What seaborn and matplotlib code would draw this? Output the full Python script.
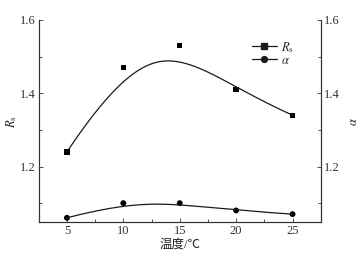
import numpy as np
import pandas as pd
import matplotlib
matplotlib.use('Agg')
import matplotlib.pyplot as plt
from matplotlib.lines import Line2D
from matplotlib.ticker import MultipleLocator
import seaborn as sns

# data
temps = [5, 10, 15, 20, 25]
rs_vals = [1.24, 1.47, 1.53, 1.41, 1.34]
alpha_vals = [1.06, 1.10, 1.10, 1.08, 1.07]


def bspline(x, y, k=3, n=300):
    # clamped cubic B-spline using the data points as control points (like Origin's "B-spline")
    P = np.column_stack([x, y]).astype(float)
    m = len(P)
    inner = np.linspace(0, 1, m - k + 1)[1:-1]
    knots = np.concatenate([np.zeros(k + 1), inner, np.ones(k + 1)])
    t = np.linspace(0, 1, n)
    t[-1] -= 1e-9

    def basis(i, d, t):
        if d == 0:
            return ((knots[i] <= t) & (t < knots[i + 1])).astype(float)
        out = np.zeros_like(t)
        den1 = knots[i + d] - knots[i]
        den2 = knots[i + d + 1] - knots[i + 1]
        if den1 > 0:
            out += (t - knots[i]) / den1 * basis(i, d - 1, t)
        if den2 > 0:
            out += (knots[i + d + 1] - t) / den2 * basis(i + 1, d - 1, t)
        return out

    B = np.column_stack([basis(i, k, t) for i in range(m)])
    C = B @ P
    return C[:, 0], C[:, 1]


sns.set_theme(style='ticks')
plt.rcParams['font.family'] = ['Liberation Serif', 'Noto Sans CJK SC']
plt.rcParams['mathtext.fontset'] = 'stix'
plt.rcParams['font.size'] = 9
plt.rcParams['xtick.direction'] = 'in'
plt.rcParams['ytick.direction'] = 'in'

fig = plt.figure(figsize=(3.62, 2.56), dpi=100)
ax = fig.add_axes([0.107, 0.132, 0.779, 0.79])
ax2 = ax.twinx()

df = pd.DataFrame({'T': temps, 'Rs': rs_vals, 'alpha': alpha_vals})

xs, ys = bspline(temps, rs_vals)
sns.lineplot(x=xs, y=ys, ax=ax, color='#1a1a1a', lw=0.9, sort=False)
sns.scatterplot(data=df, x='T', y='Rs', ax=ax, marker='s', s=15, color='black', edgecolor='none')

xs2, ys2 = bspline(temps, alpha_vals)
sns.lineplot(x=xs2, y=ys2, ax=ax, color='#1a1a1a', lw=0.9, sort=False)
sns.scatterplot(data=df, x='T', y='alpha', ax=ax, marker='o', s=18, color='black', edgecolor='none')

for a in (ax, ax2):
    a.set_ylim(1.048, 1.6)
    a.yaxis.set_major_locator(MultipleLocator(0.2))
    a.yaxis.set_minor_locator(MultipleLocator(0.1))
    a.tick_params(which='both', colors='#333333', labelsize=9, pad=2)
    a.tick_params(which='major', length=3, width=0.6)
    a.tick_params(which='minor', length=2, width=0.6)
    for s in a.spines.values():
        s.set_color('#333333')
        s.set_linewidth(0.8)
    a.spines['top'].set_visible(False)
    a.set_yticks([1.2, 1.4, 1.6])
    a.set_yticklabels(['1.2', '1.4', '1.6'])

ax.set_xlim(2.5, 27.5)
ax.set_xticks(temps)
ax.xaxis.set_minor_locator(MultipleLocator(2.5))
ax.tick_params(axis='x', which='both', top=False)
ax.tick_params(axis='y', right=False, which='both')
ax.set_xlabel('温度/℃', fontsize=9, labelpad=1, color='#222222')
ax.set_ylabel(r'$R_\mathrm{s}$', fontsize=9, labelpad=1, color='#222222')
ax2.set_ylabel(r'$\alpha$', fontsize=9, labelpad=6, color='#222222')
for lbl in ax.get_xticklabels() + ax.get_yticklabels() + ax2.get_yticklabels():
    lbl.set_color('#333333')

handles = [
    Line2D([], [], color='#1a1a1a', lw=0.9, marker='s', markersize=3.8, label=r'$R_\mathrm{s}$'),
    Line2D([], [], color='#1a1a1a', lw=0.9, marker='o', markersize=4.2, label=r'$\alpha$'),
]
ax.legend(handles=handles, loc='upper right', bbox_to_anchor=(0.935, 0.945), frameon=False,
          fontsize=9, handlelength=2.0, handletextpad=0.3, labelspacing=0.0, borderpad=0.2)

fig.savefig('out.png', dpi=100)
